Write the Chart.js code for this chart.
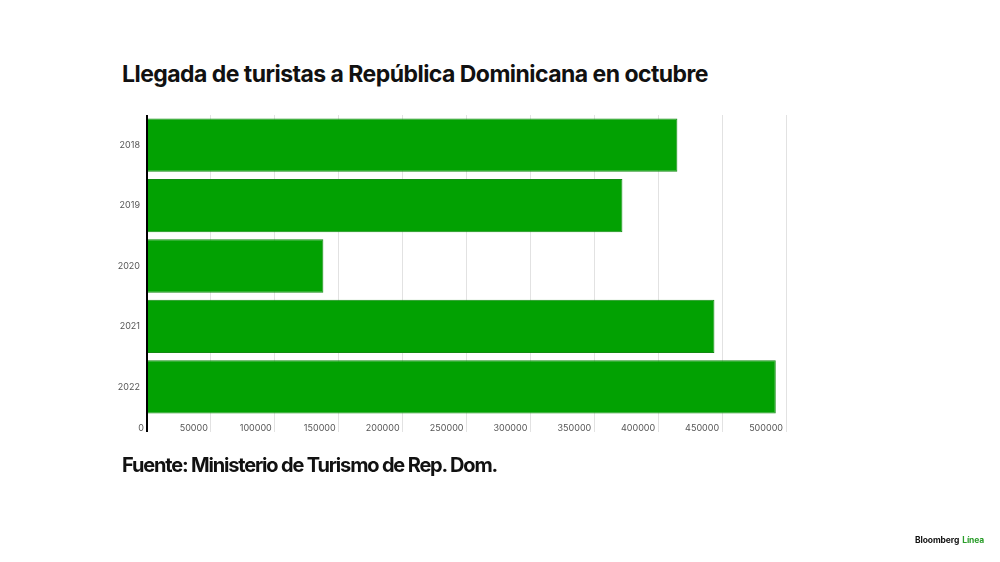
<!DOCTYPE html>
<html>
<head>
<meta charset="utf-8">
<script src="https://cdn.jsdelivr.net/npm/chart.js@4"></script>
<style>
  html, body { margin: 0; padding: 0; background: #fff; }
  body { width: 1000px; height: 562px; position: relative; overflow: hidden; font-family: Inter, "Noto Sans", sans-serif; }
  #c { position: absolute; left: 0; top: 0; }
  .t { position: absolute; white-space: nowrap; color: #111; font-weight: 700; }
  #title { left: 122px; top: 60px; font-size: 23px; }
  #foot { left: 122px; top: 453px; font-size: 20px; }
  #logo { left: 915px; top: 535px; font-size: 8.5px; font-weight: 700; color: #111; letter-spacing: -0.1px; }
  #logo span { color: #2a9d2a; margin-left: 1px; }
</style>
</head>
<body>
<div id="title" class="t">Llegada de turistas a República Dominicana en octubre</div>
<canvas id="c" width="1000" height="562"></canvas>
<div id="foot" class="t">Fuente: Ministerio de Turismo de Rep. Dom.</div>
<div id="logo" class="t">Bloomberg <span>Línea</span></div>
<script>
const categories = ["2018", "2019", "2020", "2021", "2022"];
const arrivals = [415000, 372000, 138000, 444000, 492000];
const xTicks = [0, 50000, 100000, 150000, 200000, 250000, 300000, 350000, 400000, 450000, 500000];

function fit(id, target) {
  const el = document.getElementById(id);
  const w = el.getBoundingClientRect().width;
  const n = el.textContent.length;
  el.style.letterSpacing = ((target - w) / n) + "px";
}
fit("title", 586);
fit("foot", 375);

new Chart(document.getElementById("c"), {
  type: "bar",
  data: {
    labels: categories,
    datasets: [{
      data: arrivals,
      backgroundColor: "#02a102",
      borderColor: "#128a12",
      borderWidth: 1,
      categoryPercentage: 0.9,
      barPercentage: 0.98
    }]
  },
  options: {
    indexAxis: "y",
    responsive: false,
    animation: false,
    devicePixelRatio: 1,
    layout: { padding: { left: 107, right: 214, top: 115, bottom: 120 } },
    plugins: { legend: { display: false }, tooltip: { enabled: false } },
    scales: {
      x: {
        min: 0, max: 500000,
        afterBuildTicks: (s) => { s.ticks = xTicks.map(v => ({ value: v })); },
        afterFit: (s) => { s.height = 25; },
        border: { display: false },
        grid: {
          color: (ctx) => ctx.tick && ctx.tick.value === 0 ? "#000" : "#e2e2e2",
          lineWidth: (ctx) => ctx.tick && ctx.tick.value === 0 ? 2 : 1,
          tickLength: 15
        },
        ticks: {
          align: "end",
          labelOffset: -3,
          padding: -9,
          color: "#555",
          font: { family: "Inter", size: 9 },
          callback: (v) => String(v)
        }
      },
      y: {
        afterFit: (s) => { s.width = 40; },
        border: { display: false },
        grid: { display: false, drawTicks: false },
        ticks: {
          padding: 7,
          color: "#555",
          font: { family: "Inter", size: 9 }
        }
      }
    }
  }
});
</script>
</body>
</html>
